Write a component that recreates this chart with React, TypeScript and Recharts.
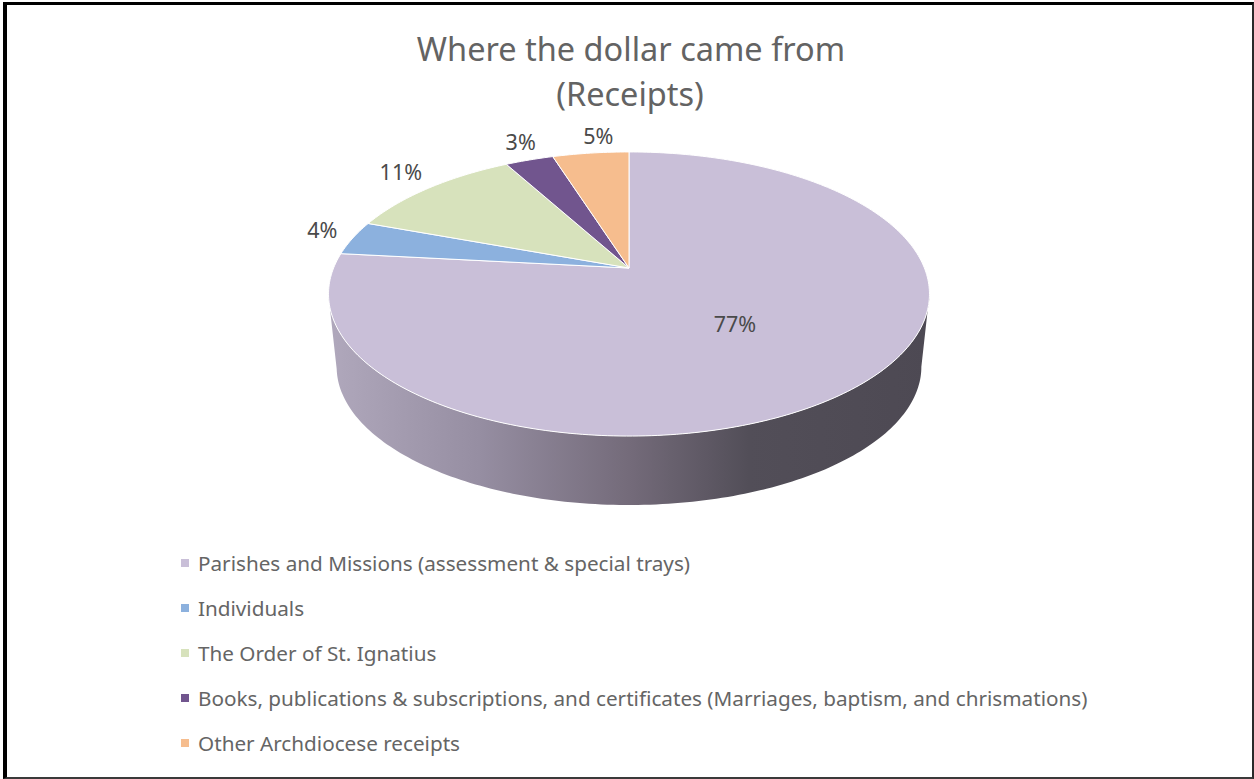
import React from 'react';
import { PieChart, Pie, Legend } from 'recharts';

const categories = [
  'Parishes and Missions (assessment & special trays)',
  'Individuals',
  'The Order of St. Ignatius',
  'Books, publications & subscriptions, and certificates (Marriages, baptism, and chrismations)',
  'Other Archdiocese receipts',
];
// estimated from the slice edges, the labels show them rounded
const shares = [76.7, 3.9, 11.4, 3.1, 4.9];
const sliceColors = ['#c9bfd8', '#8cb1de', '#d7e2bc', '#71558e', '#f6bd8e'];
const titleLines = ['Where the dollar came from', '(Receipts)'];

const tableData = categories.map((name, i) => ({ name, value: shares[i], fill: sliceColors[i] }));
const wallData = [{ name: 'wall', value: 1 }];

// label distance from the apex, in pie radii, and a small nudge per slice
const labelRadius = [0.5, 1.15, 1.2, 1.2, 1.2];
const labelNudgeX = [0, 9, 7, 8, 14];
const labelNudgeY = [1, -4, -3, -1, 1];

const APEX_X = 629;
const APEX_Y = 268;
const FONT = '"Noto Sans", sans-serif';

// perspective tilt: a flat unit circle seen from the front of the table
const TILT = 0.183;
const project = (deg: number, r: number, rx: number, ry: number, cx: number, cy: number) => {
  const u = r * Math.cos((deg * Math.PI) / 180);
  const v = -r * Math.sin((deg * Math.PI) / 180);
  const w = 1 - TILT * v;
  return [cx + (rx * u) / w, cy + (ry * v) / w];
};
const TOP_RX = 295.4;
const TOP_RY = 137.3;

const toPath = (pts: number[][]) => pts.map((p, i) => `${i ? 'L' : 'M'}${p[0].toFixed(2)},${p[1].toFixed(2)}`).join(' ');

const Slice = (props: any) => {
  const { cx, cy, startAngle, endAngle, fill } = props;
  const steps = Math.max(2, Math.ceil(Math.abs(endAngle - startAngle)));
  const pts = [[cx, cy]];
  for (let i = 0; i <= steps; i++) {
    pts.push(project(startAngle + ((endAngle - startAngle) * i) / steps, 1, TOP_RX, TOP_RY, cx, cy));
  }
  return <path d={toPath(pts) + ' Z'} fill={fill} stroke="#ffffff" strokeWidth={1} strokeLinejoin="round" />;
};

// side of the disc: front half of the top rim joined to a slightly smaller rim below
const Wall = (props: any) => {
  const { cx, cy } = props;
  const from = (Math.asin(TILT) * 180) / Math.PI;
  const upper = [];
  const lower = [];
  for (let a = -from; a >= -180 + from; a -= 1) {
    upper.push(project(a, 1, TOP_RX, TOP_RY, cx, cy));
    lower.unshift(project(a, 1, TOP_RX * 0.973, TOP_RY * 0.973, cx, cy + 73.5));
  }
  return <path d={toPath([...upper, ...lower]) + ' Z'} fill="url(#wallShade)" />;
};

const SliceLabel = (props: any) => {
  const { cx, cy, midAngle, index } = props;
  const [x, y] = project(midAngle, labelRadius[index], TOP_RX, TOP_RY, cx, cy);
  return (
    <text x={x + labelNudgeX[index]} y={y + labelNudgeY[index]} textAnchor="middle" dominantBaseline="central" fontFamily={FONT} fontSize={21.5} fill="#4a4a4a">
      {`${Math.round(shares[index])}%`}
    </text>
  );
};

const LegendRows = ({ payload }: any) => (
  <div>
    {(payload || []).filter((entry: any) => categories.includes(entry.value)).map((entry: any) => (
      <div key={entry.value} style={{ height: 45, display: 'flex', alignItems: 'center', fontFamily: FONT, fontSize: 20.7, color: '#656565', whiteSpace: 'nowrap' }}>
        <span style={{ width: 8, height: 8, background: entry.color, marginRight: 9, flex: 'none' }} />
        {entry.value}
      </div>
    ))}
  </div>
);

export default function App() {
  return (
    <div style={{ position: 'absolute', left: 0, top: 0, width: 1254, height: 779, background: '#ffffff', overflow: 'hidden' }}>
      <div style={{ position: 'absolute', left: 3, top: 2, right: 0, bottom: 0, borderLeft: '4px solid #000', borderTop: '3px solid #000', borderRight: '2px solid #2a2a2a', borderBottom: '2px solid #3a3a3a' }} />
      <PieChart width={1254} height={779} margin={{ top: 0, right: 0, bottom: 0, left: 0 }} style={{ position: 'absolute', left: 0, top: 0 }}>
        <defs>
          <linearGradient id="wallShade" x1="0" y1="0" x2="1" y2="0">
            <stop offset="0" stopColor="#b0a8bc" />
            <stop offset="0.25" stopColor="#968ea2" />
            <stop offset="0.5" stopColor="#746b7a" />
            <stop offset="0.7" stopColor="#524e58" />
            <stop offset="1" stopColor="#4d4953" />
          </linearGradient>
        </defs>
        <text textAnchor="middle" fontFamily={FONT} fontSize={32.5} fill="#636363">
          <tspan x={631} y={61}>{titleLines[0]}</tspan>
          <tspan x={630} y={106}>{titleLines[1]}</tspan>
        </text>
        <Pie data={wallData} dataKey="value" cx={APEX_X} cy={APEX_Y} outerRadius={100} legendType="none" shape={Wall} fill="#4d4953" stroke="none" isAnimationActive={false} />
        <Pie
          data={tableData}
          dataKey="value"
          nameKey="name"
          cx={APEX_X}
          cy={APEX_Y}
          outerRadius={100}
          startAngle={90}
          endAngle={-270}
          shape={Slice}
          label={SliceLabel}
          labelLine={false}
          isAnimationActive={false}
        />
        <Legend content={LegendRows} itemSorter={null} wrapperStyle={{ position: 'absolute', left: 181, top: 540, width: 1000 }} />
      </PieChart>
    </div>
  );
}
